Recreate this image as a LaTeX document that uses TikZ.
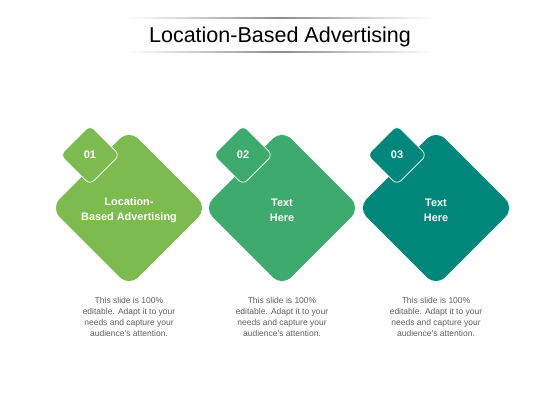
\documentclass[tikz,border=0pt]{standalone}
\usepackage{fontspec}
\setmainfont{Liberation Sans}
\definecolor{cone}{RGB}{125,187,80}
\definecolor{ctwo}{RGB}{63,170,110}
\definecolor{cthree}{RGB}{0,134,122}
\definecolor{desc}{RGB}{95,95,95}
\begin{document}
\begin{tikzpicture}[x=1pt,y=-1pt,
  bigdia/.style={shape=rectangle,rotate=45,minimum size=111pt,inner sep=0pt,rounded corners=13pt},
  smalldia/.style={shape=rectangle,rotate=45,minimum size=42pt,inner sep=0pt,rounded corners=6pt,draw=white,line width=0.7pt},
  bigtxt/.style={text=white,font=\fontsize{10.9}{15}\selectfont\bfseries,align=center},
  numtxt/.style={text=white,font=\fontsize{11}{13}\selectfont\bfseries},
  desctxt/.style={text=desc,font=\fontsize{8.5}{11}\selectfont,align=center},
  rule/.style={left color=white,right color=white,middle color=black!45,draw=none}]
\useasboundingbox[fill=white] (0,0) rectangle (560,420);
% title
\node (title) at (280,37) {\fontsize{21.5}{25}\selectfont Location-Based Advertising};
\shade[rule] (128,17.4) rectangle (432,18.6);
\shade[rule] (128,51.4) rectangle (432,52.6);
% diamonds
\foreach \n/\x/\c/\t/\num in {1/129/cone/{Location-\\Based Advertising}/01,
                              2/282/ctwo/{Text\\Here}/02,
                              3/436/cthree/{Text\\Here}/03}{
  \node[bigdia,fill=\c] (big\n) at (\x,208) {};
  \node[smalldia,fill=\c] (small\n) at (\x-39,155) {};
  \node[numtxt] (num\n) at (small\n.center) {\num};
  \node[bigtxt] (lab\n) at (\x,210) {\t};
  \node[desctxt] (desc\n) at (\x,317) {This slide is 100\%\\editable. Adapt it to your\\needs and capture your\\audience's attention.};
}
\end{tikzpicture}
\end{document}
